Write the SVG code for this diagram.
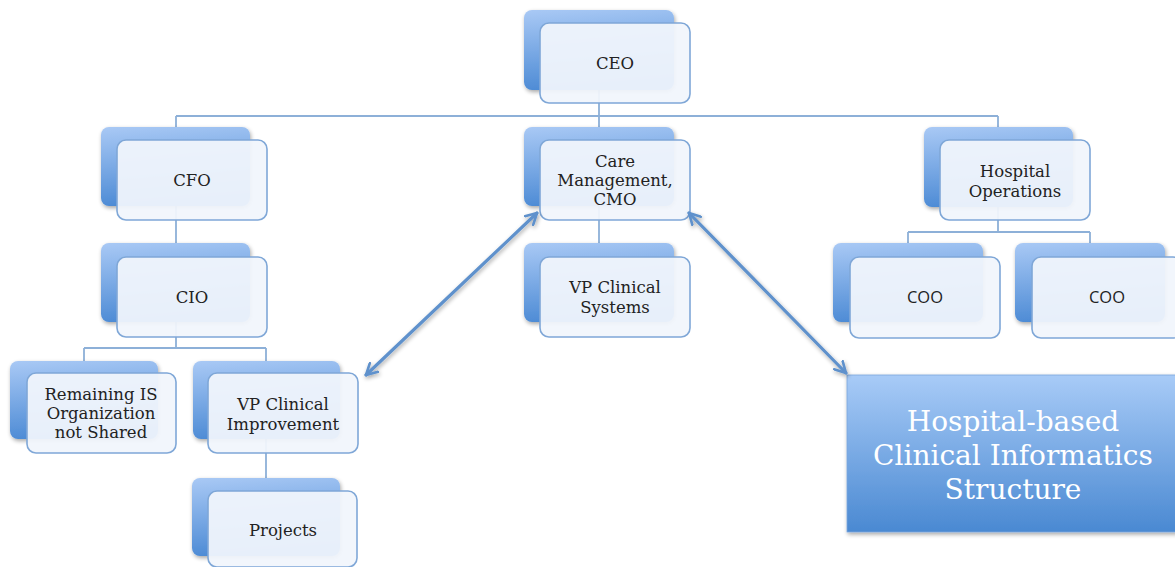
<svg xmlns="http://www.w3.org/2000/svg" width="1175" height="567" viewBox="0 0 1175 567">
<defs>
  <linearGradient id="gBack" x1="0" y1="0" x2="0.15" y2="1">
    <stop offset="0" stop-color="#a9c9f5"/>
    <stop offset="1" stop-color="#4d8bd5"/>
  </linearGradient>
  <linearGradient id="gBig" x1="0" y1="0" x2="0" y2="1">
    <stop offset="0" stop-color="#a8cbf7"/>
    <stop offset="1" stop-color="#4a89d2"/>
  </linearGradient>
  <filter id="sh" x="-10%" y="-10%" width="130%" height="130%">
    <feGaussianBlur in="SourceAlpha" stdDeviation="2"/>
    <feOffset dx="1" dy="2" result="b"/>
    <feComponentTransfer><feFuncA type="linear" slope="0.35"/></feComponentTransfer>
    <feMerge><feMergeNode/><feMergeNode in="SourceGraphic"/></feMerge>
  </filter>
  <marker id="chev" viewBox="0 0 14 14" refX="12" refY="7" markerWidth="14" markerHeight="14" markerUnits="userSpaceOnUse" orient="auto-start-reverse">
    <path d="M1,1 L12,7 L1,13" fill="none" stroke="#5e91cc" stroke-width="2.6" stroke-linecap="round" stroke-linejoin="round"/>
  </marker>
</defs>
<style>
  .back { fill: url(#gBack); }
  .front { fill: #f1f5fc; fill-opacity: 0.94; stroke: #7fa7d7; stroke-width: 1.6; }
  .conn { stroke: #8db0d8; stroke-width: 1.8; fill: none; }
  .arrow { stroke: #5e91cc; stroke-width: 3.2; fill: none; stroke-linecap: round; }
  .t { font-family: "DejaVu Serif", "Liberation Serif", serif; font-size: 16.5px; fill: #222222; text-anchor: middle; }
  .s { font-family: "Open Sans", "Liberation Sans", sans-serif; font-size: 16.5px; fill: #222222; text-anchor: middle; }
  .big { font-family: "DejaVu Serif", "Liberation Serif", serif; font-size: 28px; fill: #ffffff; text-anchor: middle; }
</style>
<rect width="1175" height="567" fill="#ffffff"/>

<g id="connectors">
  <path class="conn" d="M599,90 V116 M176,116 H998 M176,116 V127 M599,116 V127 M998,116 V127"/>
  <path class="conn" d="M176,206 V243"/>
  <path class="conn" d="M176,322 V348 M84,348 H266 M84,348 V361 M266,348 V361"/>
  <path class="conn" d="M266,439 V478"/>
  <path class="conn" d="M599,206 V243"/>
  <path class="conn" d="M998,207 V232 M908,232 H1090 M908,232 V243 M1090,232 V243"/>
</g>

<g id="ceo">
  <rect class="back" x="524" y="10" width="150" height="80" rx="8" filter="url(#sh)"/>
  <rect class="front" x="540" y="23" width="150" height="80" rx="9"/>
  <text class="t" x="615" y="69">CEO</text>
</g>
<g id="cfo">
  <rect class="back" x="101" y="127" width="149" height="79" rx="8" filter="url(#sh)"/>
  <rect class="front" x="117" y="140" width="150" height="80" rx="9"/>
  <text class="t" x="192" y="186">CFO</text>
</g>
<g id="cio">
  <rect class="back" x="101" y="243" width="149" height="79" rx="8" filter="url(#sh)"/>
  <rect class="front" x="117" y="257" width="150" height="80" rx="9"/>
  <text class="t" x="192" y="303">CIO</text>
</g>
<g id="remaining-is">
  <rect class="back" x="10" y="361" width="148" height="78" rx="8" filter="url(#sh)"/>
  <rect class="front" x="27" y="373" width="149" height="80" rx="9"/>
  <text class="t" x="101" y="400">Remaining IS</text>
  <text class="t" x="101" y="419">Organization</text>
  <text class="t" x="101" y="438">not Shared</text>
</g>
<g id="vp-clinical-improvement">
  <rect class="back" x="193" y="361" width="147" height="78" rx="8" filter="url(#sh)"/>
  <rect class="front" x="208" y="373" width="150" height="80" rx="9"/>
  <text class="t" x="283" y="410">VP Clinical</text>
  <text class="t" x="283" y="430">Improvement</text>
</g>
<g id="projects">
  <rect class="back" x="192" y="478" width="148" height="78" rx="8" filter="url(#sh)"/>
  <rect class="front" x="208" y="491" width="149" height="76" rx="9"/>
  <text class="t" x="283" y="536">Projects</text>
</g>
<g id="care-management">
  <rect class="back" x="524" y="127" width="150" height="79" rx="8" filter="url(#sh)"/>
  <rect class="front" x="540" y="140" width="150" height="80" rx="9"/>
  <text class="t" x="615" y="167">Care</text>
  <text class="t" x="615" y="186">Management,</text>
  <text class="t" x="615" y="205">CMO</text>
</g>
<g id="vp-clinical-systems">
  <rect class="back" x="524" y="243" width="150" height="79" rx="8" filter="url(#sh)"/>
  <rect class="front" x="540" y="257" width="150" height="80" rx="9"/>
  <text class="t" x="615" y="293">VP Clinical</text>
  <text class="t" x="615" y="313">Systems</text>
</g>
<g id="hospital-operations">
  <rect class="back" x="924" y="127" width="149" height="80" rx="8" filter="url(#sh)"/>
  <rect class="front" x="940" y="140" width="150" height="80" rx="9"/>
  <text class="t" x="1015" y="177">Hospital</text>
  <text class="t" x="1015" y="197">Operations</text>
</g>
<g id="coo-1">
  <rect class="back" x="833" y="243" width="150" height="79" rx="8" filter="url(#sh)"/>
  <rect class="front" x="850" y="257" width="150" height="81" rx="9"/>
  <text class="s" x="925" y="303">COO</text>
</g>
<g id="coo-2">
  <rect class="back" x="1015" y="243" width="150" height="79" rx="8" filter="url(#sh)"/>
  <rect class="front" x="1032" y="257" width="150" height="81" rx="9"/>
  <text class="s" x="1107" y="303">COO</text>
</g>

<g id="hospital-based-structure">
  <rect x="847" y="375" width="340" height="157" fill="url(#gBig)" stroke="#7aa6dc" stroke-width="0.8" filter="url(#sh)"/>
  <text class="big" x="1013" y="431">Hospital-based</text>
  <text class="big" x="1013" y="465">Clinical Informatics</text>
  <text class="big" x="1013" y="499">Structure</text>
</g>

<g id="arrows">
  <line class="arrow" x1="366" y1="375" x2="537" y2="213" marker-start="url(#chev)" marker-end="url(#chev)" filter="url(#sh)"/>
  <line class="arrow" x1="689" y1="213" x2="846" y2="373" marker-start="url(#chev)" marker-end="url(#chev)" filter="url(#sh)"/>
</g>
</svg>
